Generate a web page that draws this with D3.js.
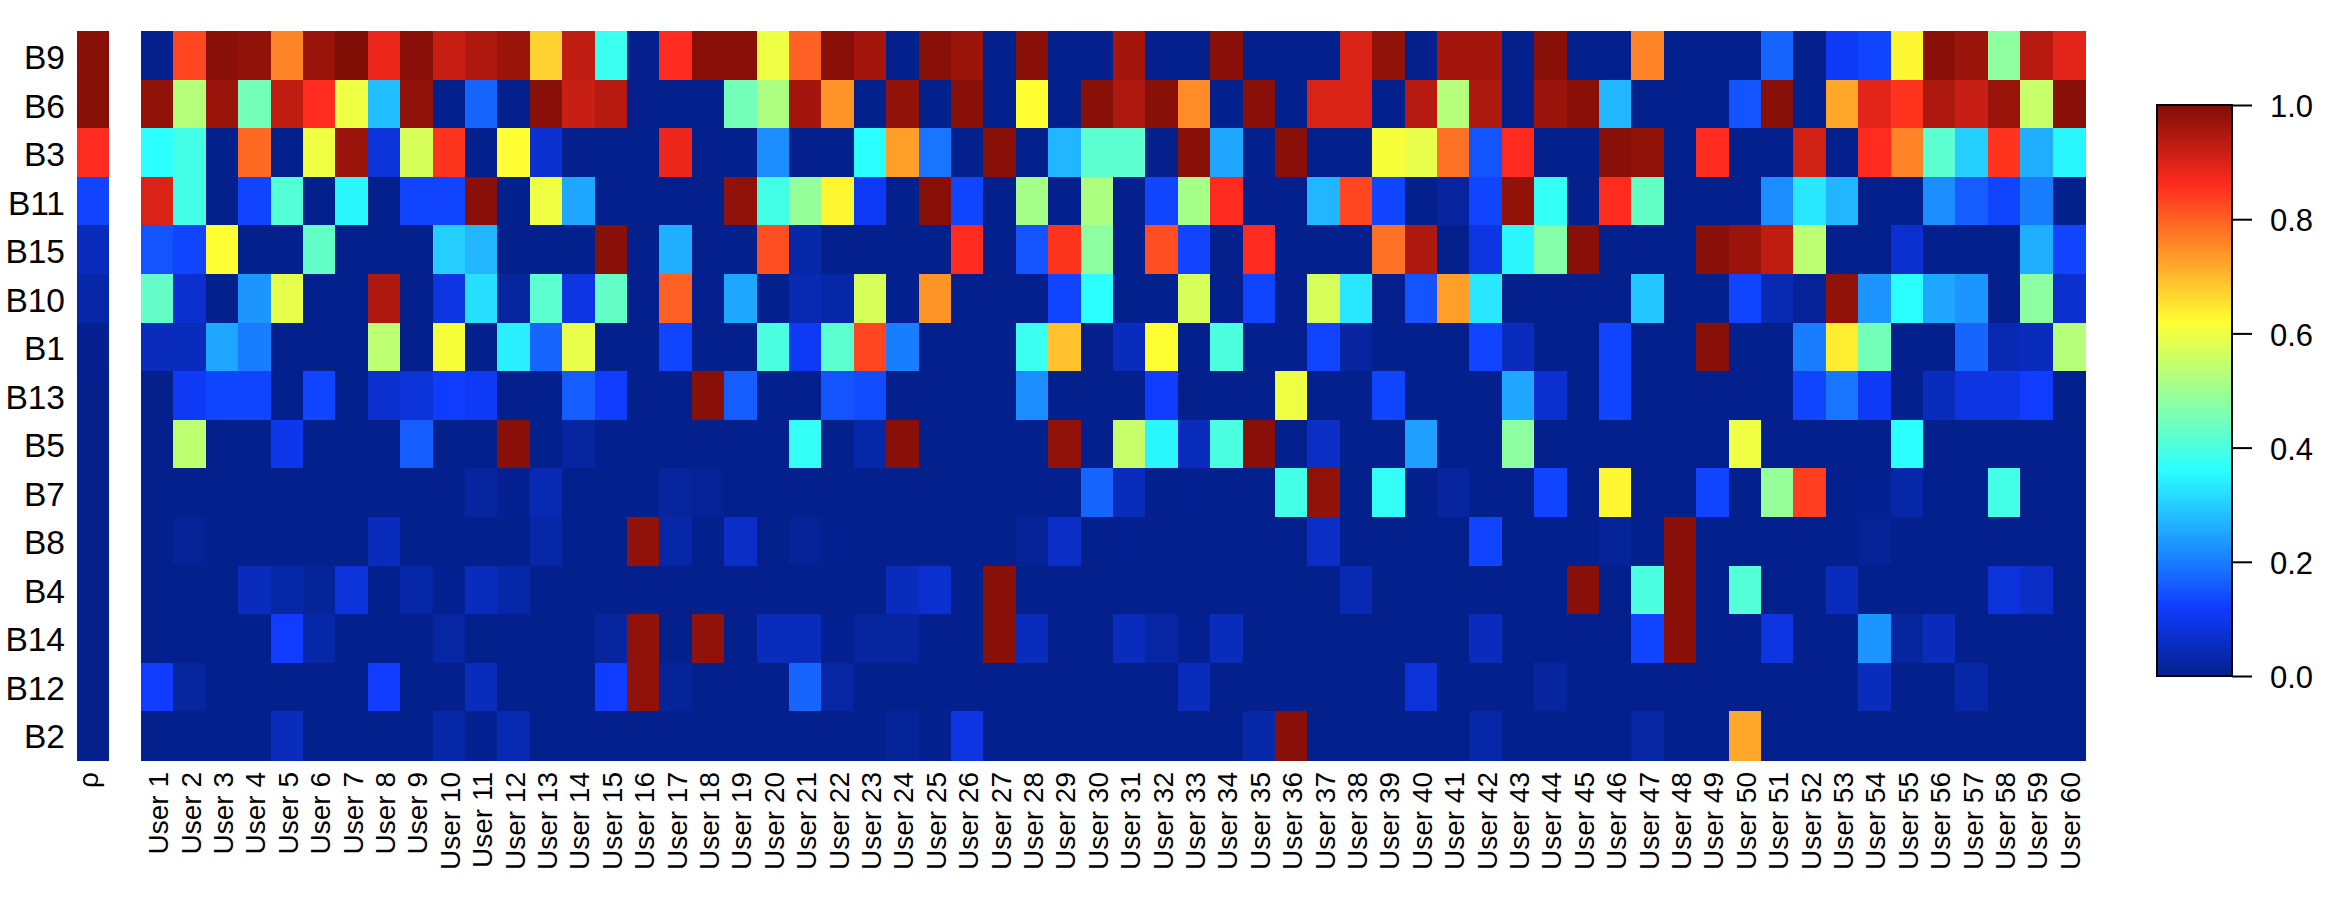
<!DOCTYPE html>
<html>
<head>
<meta charset="utf-8">
<script src="https://cdn.jsdelivr.net/npm/d3@7"></script>
<style>
  html, body { margin: 0; padding: 0; background: white; }
  text { font-family: "Liberation Sans", Arial, sans-serif; fill: black; }
</style>
</head>
<body>
<script>
const users = d3.range(1, 61).map(i => "User " + i);
const rowNames = ["B9", "B6", "B3", "B11", "B15", "B10", "B1", "B13", "B5", "B7", "B8", "B4", "B14", "B12", "B2"];
const rho = [.99, .99, .86, .13, .05, .03, .005, 0, 0, 0, 0, 0, 0, 0, 0];
const legendTicks = [0, .2, .4, .6, .8, 1];

const B9 = [0,.83,.99,.98,.76,.97,1,.88,.99,.92, .95,.97,.67,.93,.38,0,.86,.99,.99,.6, .8,.99,.96,0,.99,.97,0,.99,0,0, .96,0,0,.99,0,0,0,.9,.98,0, .96,.96,0,.99,0,0,.76,0,0,0, .17,0,.11,.13,.63,.99,.97,.48,.94,.89];
const B6 = [.98,.53,.97,.45,.93,.86,.6,.28,.98,0, .17,0,.99,.92,.94,0,0,0,.45,.52, .96,.74,0,.98,0,.99,0,.62,0,.99, .95,.99,.75,0,.99,0,.9,.9,0,.94, .53,.95,0,.97,.99,.27,0,0,0,.15, .99,0,.72,.89,.85,.95,.92,.97,.55,.99];
const B3 = [.36,.39,0,.79,0,.6,.97,.08,.57,.85, 0,.62,.07,0,0,0,.88,0,0,.22, 0,0,.36,.73,.19,0,.99,0,.27,.42, .42,0,.99,.25,0,.99,0,0,.61,.59, .78,.15,.86,0,0,.99,.98,0,.86,0, 0,.91,0,.86,.76,.42,.3,.85,.26,.35];
const B11 = [.9,.39,0,.13,.41,0,.35,0,.13,.13, .99,0,.6,.25,0,0,0,0,.98,.39, .49,.63,.11,0,.99,.13,0,.51,0,.52, 0,.13,.51,.86,0,0,.27,.83,.13,0, .02,.13,.98,.37,0,.86,.43,0,0,0, .22,.33,.27,0,0,.22,.16,.13,.2,0];
const B15 = [.15,.13,.62,0,0,.43,0,0,0,.3, .27,0,0,0,.99,0,.26,0,0,.82, .03,0,0,0,0,.86,0,.15,.85,.48, 0,.82,.13,0,.86,0,0,0,.78,.95, 0,.09,.35,.47,.99,0,0,0,.99,.97, .93,.54,0,0,.07,0,0,0,.26,.13];
const B10 = [.43,.07,0,.23,.59,0,0,.95,0,.09, .32,.02,.42,.09,.43,0,.8,0,.25,0, .04,.03,.57,0,.74,0,0,0,.13,.36, 0,0,.57,0,.13,0,.57,.33,0,.15, .73,.33,0,0,0,0,.29,0,0,.13, .04,.01,.98,.23,.36,.25,.23,0,.48,.07];
const B1 = [.05,.05,.25,.2,0,0,0,.54,0,.61, 0,.34,.17,.59,0,0,.13,0,0,.4, .11,.42,.83,.2,0,0,0,.38,.69,0, .05,.62,0,.4,0,0,.13,.02,0,0, 0,.13,.05,0,0,.13,0,0,.99,0, 0,.2,.64,.45,0,0,.17,.04,.05,.53];
const B13 = [0,.11,.13,.13,0,.13,0,.07,.08,.12, .11,0,0,.16,.12,0,0,.99,.16,0, 0,.15,.14,0,0,0,0,.22,0,0, 0,.12,0,0,0,.6,0,0,.13,0, 0,0,.25,.07,0,.13,0,0,0,0, 0,.13,.19,.11,0,.05,.09,.09,.12,0];
const B5 = [0,.54,0,0,.1,0,0,0,.16,0, 0,.99,0,.02,0,0,0,0,0,0, .37,0,.03,.99,0,0,0,0,.98,0, .55,.35,.05,.4,.99,0,.06,0,0,.24, 0,0,.48,0,0,0,0,0,0,.6, 0,0,0,0,.36,0,0,0,0,0];
const B7 = [0,0,0,0,0,0,0,0,0,0, .02,.005,.04,0,0,0,.02,.01,0,0, 0,0,0,0,0,0,0,0,0,.17, .05,0,.005,0,0,.39,.98,0,.37,0, .02,0,0,.13,0,.63,0,0,.13,0, .49,.84,0,.005,.03,0,0,.39,0,0];
const B8 = [0,.01,0,0,0,0,0,.05,0,0, 0,0,.03,0,0,.98,.03,0,.06,0, .01,.005,0,0,0,0,0,.01,.06,0, .005,0,0,0,0,0,.06,0,0,0, 0,.13,0,0,0,.015,0,.99,0,0, 0,0,0,.01,0,0,0,0,0,0];
const B4 = [0,0,0,.05,.03,.015,.08,0,.03,.005, .05,.03,0,0,0,0,0,0,0,0, 0,0,0,.05,.07,0,.99,0,0,0, 0,0,0,0,0,0,0,.04,0,0, 0,0,0,0,.99,0,.4,.99,0,.41, 0,0,.05,0,0,0,0,.08,.06,0];
const B14 = [0,0,0,0,.12,.03,0,0,0,.025, 0,0,0,0,.02,.98,0,.98,0,.05, .05,.005,.02,.02,0,0,.99,.05,0,0, .05,.025,.005,.05,0,0,0,0,0,0, 0,.05,0,0,0,0,.13,.99,0,0, .09,0,0,.23,.02,.05,0,0,.003,0];
const B12 = [.12,.02,0,0,0,0,0,.12,0,0, .05,0,0,0,.12,.98,.015,0,0,0, .17,.025,0,0,0,0,0,0,0,0, 0,0,.05,0,0,0,0,0,0,.08, 0,0,0,.02,0,0,0,0,0,0, 0,0,0,.05,0,0,.03,0,0,0];
const B2 = [0,0,0,0,.05,0,0,0,0,.03, .005,.04,0,0,0,0,0,0,0,0, 0,0,0,.015,.003,.09,0,0,0,0, 0,0,0,0,.03,.99,0,0,0,0, 0,.03,0,0,0,0,.025,0,0,.72, 0,0,0,0,.003,.002,0,0,0,0];
const rows = [B9, B6, B3, B11, B15, B10, B1, B13, B5, B7, B8, B4, B14, B12, B2];

const fullwidth = 2346, fullheight = 904;
const plotTop = 31, plotBottom = 760;
const plotLeft = 141, plotRight = 2085;
const rhoLeft = 77, rhoRight = 109;

// jet-ish palette
const color = d3.scaleLinear()
  .domain([0, .12, .36, .62, .86, 1])
  .range(["#04208c", "#103cff", "#2bffff", "#ffff33", "#ff2b1e", "#7f0e06"])
  .clamp(true);

const svg = d3.select("body").append("svg")
  .attr("width", fullwidth)
  .attr("height", fullheight)
  .style("display", "block");

const x = d3.scaleBand().domain(users).range([plotLeft, plotRight]);
const y = d3.scaleBand().domain(rowNames).range([plotTop, plotBottom]);
const xRho = d3.scaleBand().domain(["ρ"]).range([rhoLeft, rhoRight]);
const yLabel = d3.scalePoint().domain(rowNames).range([69, 748]);   // label baselines

// main heatmap
svg.append("g").attr("shape-rendering", "crispEdges")
  .selectAll("g")
  .data(rows)
  .join("g")
  .each(function (values, r) {
    d3.select(this).selectAll("rect")
      .data(values)
      .join("rect")
      .attr("x", (d, i) => x(users[i]))
      .attr("y", y(rowNames[r]))
      .attr("width", x.bandwidth() + .5)
      .attr("height", y.bandwidth() + .5)
      .attr("fill", d => color(d));
  });

// rho column
svg.append("g").attr("shape-rendering", "crispEdges")
  .selectAll("rect")
  .data(rho)
  .join("rect")
  .attr("x", xRho("ρ"))
  .attr("y", (d, i) => y(rowNames[i]))
  .attr("width", xRho.bandwidth())
  .attr("height", y.bandwidth() + .5)
  .attr("fill", d => color(d));

// row labels
svg.append("g").selectAll("text")
  .data(rowNames)
  .join("text")
  .attr("x", 65)
  .attr("y", d => yLabel(d))
  .attr("text-anchor", "end")
  .attr("font-size", 33.5)
  .text(d => d);

// column labels
svg.append("g").selectAll("text")
  .data(["ρ"].concat(users))
  .join("text")
  .attr("transform", d => {
    const cx = d === "ρ" ? xRho(d) + xRho.bandwidth() / 2 : x(d) + x.bandwidth() / 2;
    return `translate(${cx},772) rotate(-90)`;
  })
  .attr("dy", d => d === "ρ" ? "0.18em" : "0.39em")
  .attr("text-anchor", "end")
  .attr("font-size", 28)
  .text(d => d);

// colour bar
const barLeft = 2157, barRight = 2232, barTop = 105, barBottom = 676;
const barY = d3.scaleLinear().domain([0, 1]).range([barBottom, barTop]);

svg.append("g").attr("shape-rendering", "crispEdges")
  .selectAll("rect")
  .data(d3.range(0, 1, 1 / 256))
  .join("rect")
  .attr("x", barLeft)
  .attr("y", d => barY(d + 1 / 256))
  .attr("width", barRight - barLeft)
  .attr("height", (barBottom - barTop) / 256 + 1)
  .attr("fill", d => color(d));

svg.append("rect")
  .attr("x", barLeft)
  .attr("y", barTop)
  .attr("width", barRight - barLeft)
  .attr("height", barBottom - barTop)
  .attr("fill", "none")
  .attr("stroke", "black")
  .attr("stroke-width", 2);

const legendAxis = svg.append("g")
  .attr("transform", `translate(${barRight},0)`)
  .call(d3.axisRight(barY).tickValues(legendTicks).tickFormat(d3.format(".1f")).tickSize(20).tickPadding(18));
legendAxis.select(".domain").remove();
legendAxis.selectAll("line").attr("stroke", "black").attr("stroke-width", 2);
legendAxis.selectAll("text")
  .attr("font-size", 31)
  .attr("dy", "0.38em")
  .style("font-family", '"Liberation Sans", Arial, sans-serif');
</script>
</body>
</html>
